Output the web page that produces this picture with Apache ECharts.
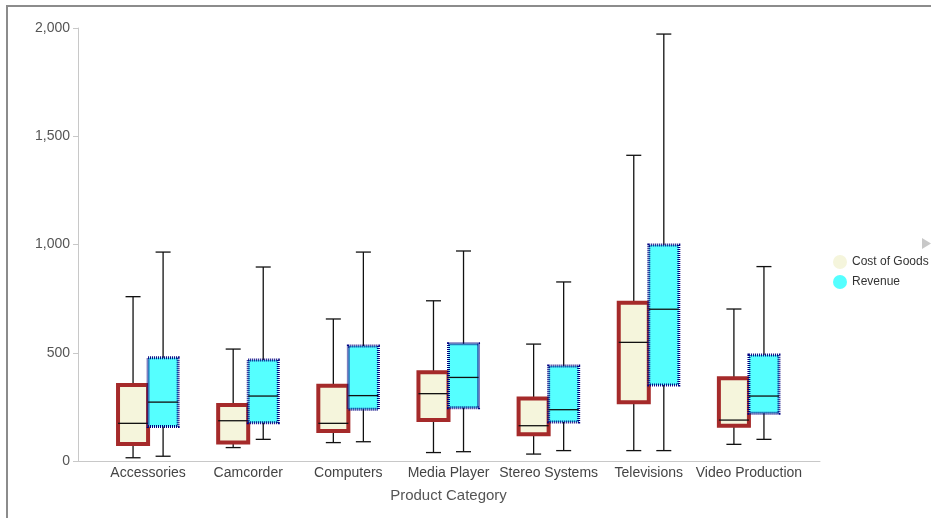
<!DOCTYPE html>
<html>
<head>
<meta charset="utf-8">
<script src="https://cdn.jsdelivr.net/npm/echarts@6/dist/echarts.min.js"></script>
<style>
  html, body { margin: 0; padding: 0; background: #fff; }
  #frame { position: absolute; left: 6px; top: 5px; width: 940px; height: 530px;
           border-left: 2px solid #8c8c8c; border-top: 2px solid #8c8c8c; }
  #chart { position: absolute; left: 0; top: 0; width: 931px; height: 518px; }
</style>
</head>
<body>
<div id="frame"></div>
<div id="chart"></div>
<script>
// Categories and series statistics: [low, Q1, median, Q3, high]
const categories = ['Accessories', 'Camcorder', 'Computers', 'Media Player', 'Stereo Systems', 'Televisions', 'Video Production'];
const costOfGoods = [
  [15, 78, 174, 351, 759],
  [62, 86, 186, 259, 517],
  [85, 139, 174, 348, 656],
  [39, 189, 311, 410, 740],
  [32, 123, 163, 289, 540],
  [48, 271, 548, 731, 1412],
  [77, 163, 189, 382, 702]
];
const revenue = [
  [22, 159, 272, 477, 965],
  [100, 177, 300, 466, 896],
  [89, 239, 302, 531, 965],
  [43, 246, 386, 542, 970],
  [48, 180, 237, 439, 827],
  [48, 351, 701, 998, 1972],
  [100, 220, 300, 490, 898]
];
const yTicks = [0, 500, 1000, 1500, 2000];

const FONT = '"Liberation Sans", Arial, sans-serif';

function makeRender(offsetFrac, fill, stroke, lineWidth, lineDash) {
  return function (params, api) {
    const cat = api.value(0);
    const band = api.size([1, 0])[0];
    const cx = api.coord([cat, 0])[0] + offsetFrac * band;
    const w = 0.3 * band;
    const capW = 0.15 * band;
    const yLow = api.coord([cat, api.value(1)])[1];
    const yQ1 = api.coord([cat, api.value(2)])[1];
    const yMed = api.coord([cat, api.value(3)])[1];
    const yQ3 = api.coord([cat, api.value(4)])[1];
    const yHigh = api.coord([cat, api.value(5)])[1];
    const ls = { stroke: '#111', lineWidth: 1.3 };
    return {
      type: 'group',
      children: [
        { type: 'line', shape: { x1: cx, y1: yHigh, x2: cx, y2: yLow }, style: ls },
        { type: 'line', shape: { x1: cx - capW / 2, y1: yHigh, x2: cx + capW / 2, y2: yHigh }, style: ls },
        { type: 'line', shape: { x1: cx - capW / 2, y1: yLow, x2: cx + capW / 2, y2: yLow }, style: ls },
        { type: 'rect', shape: { x: cx - w / 2, y: yQ3, width: w, height: yQ1 - yQ3 },
          style: { fill: fill, stroke: stroke, lineWidth: lineWidth, lineDash: lineDash } },
        { type: 'line', shape: { x1: cx - w / 2, y1: yMed, x2: cx + w / 2, y2: yMed }, style: ls }
      ]
    };
  };
}

const costData = costOfGoods.map((d, i) => [i].concat(d));
const revData = revenue.map((d, i) => [i].concat(d));

const chart = echarts.init(document.getElementById('chart'), null, { renderer: 'canvas' });
chart.setOption({
  animation: false,
  textStyle: { fontFamily: FONT },
  grid: [
    { left: 98, width: 701, top: 28, bottom: 57 },
    { left: 78, width: 742, top: 28, bottom: 57 }
  ],
  legend: {
    orient: 'vertical',
    left: 833,
    top: 255,
    padding: 0,
    icon: 'circle',
    itemWidth: 14,
    itemHeight: 14,
    itemGap: 6,
    itemStyle: { borderWidth: 0 },
    textStyle: { fontSize: 12, color: '#333', fontFamily: FONT },
    data: ['Cost of Goods', 'Revenue']
  },
  xAxis: [
    {
      type: 'category',
      gridIndex: 0,
      data: categories,
      boundaryGap: true,
      axisLine: { show: false },
      axisTick: { show: false },
      axisLabel: { fontSize: 14, color: '#444', margin: 5, interval: 0, fontFamily: FONT },
      name: 'Product Category',
      nameLocation: 'middle',
      nameGap: 27,
      nameTextStyle: { fontSize: 15, color: '#555', fontFamily: FONT },
      splitLine: { show: false }
    },
    {
      type: 'value',
      gridIndex: 1,
      min: 0, max: 1,
      axisLine: { show: true, lineStyle: { color: '#c8c8c8', width: 1 } },
      axisTick: { show: false },
      axisLabel: { show: false },
      splitLine: { show: false }
    }
  ],
  yAxis: [
    {
      type: 'value',
      gridIndex: 0,
      min: yTicks[0],
      max: yTicks[yTicks.length - 1],
      interval: 500,
      offset: 20,
      axisLine: { show: true, lineStyle: { color: '#c8c8c8', width: 1 } },
      axisTick: { show: true, length: 5, lineStyle: { color: '#c8c8c8' } },
      axisLabel: { fontSize: 14, color: '#555', margin: 8, fontFamily: FONT,
                   formatter: v => v.toLocaleString('en-US') },
      splitLine: { show: false }
    },
    {
      type: 'value',
      gridIndex: 1,
      show: false
    }
  ],
  graphic: [
    { type: 'polygon', shape: { points: [[922, 238], [931, 243.5], [922, 249]] },
      style: { fill: '#c8c8c8' } }
  ],
  series: [
    {
      name: 'Cost of Goods',
      type: 'custom',
      xAxisIndex: 0, yAxisIndex: 0,
      itemStyle: { color: '#f5f5dc' },
      encode: { x: 0, y: [1, 2, 3, 4, 5] },
      renderItem: makeRender(-0.15, '#f5f5dc', '#a52a2a', 4, null),
      data: costData
    },
    {
      name: 'Revenue',
      type: 'custom',
      xAxisIndex: 0, yAxisIndex: 0,
      itemStyle: { color: '#55ffff' },
      encode: { x: 0, y: [1, 2, 3, 4, 5] },
      renderItem: makeRender(0.15, '#55ffff', '#000080', 3, [1, 1]),
      data: revData
    }
  ]
});
</script>
</body>
</html>
